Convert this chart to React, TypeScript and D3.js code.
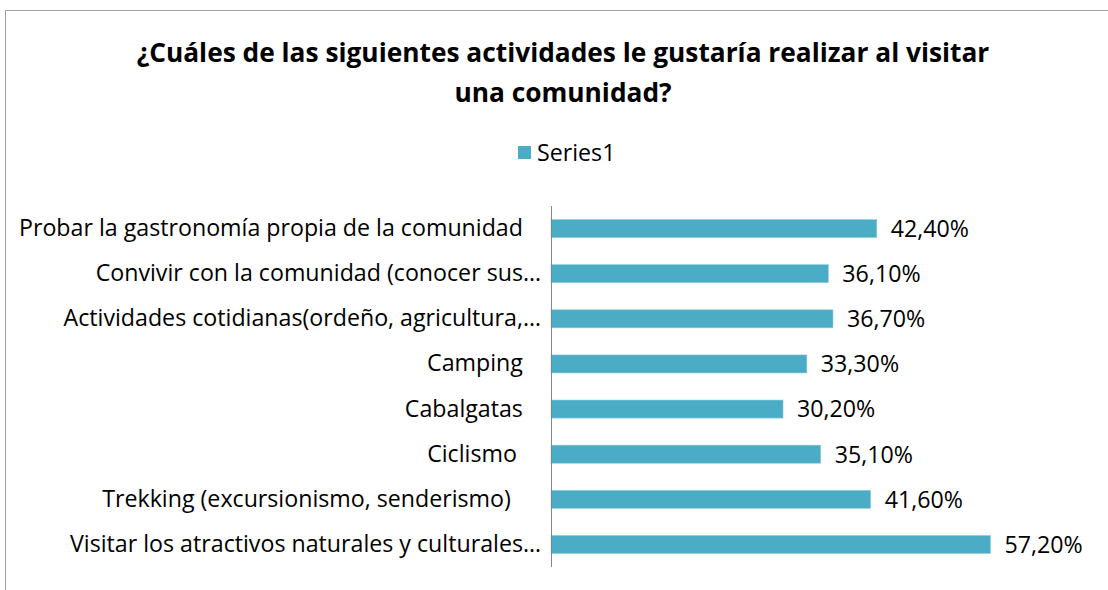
import { useEffect, useRef } from 'react';
import * as d3 from 'd3';

const TITLE_LINES = [
  '¿Cuáles de las siguientes actividades le gustaría realizar al visitar',
  'una comunidad?',
];
const SERIES_NAME = 'Series1';

// top to bottom, as shown (trailing spaces come from the source labels)
const CATEGORIES = [
  'Probar la gastronomía propia de la comunidad   ',
  'Convivir con la comunidad (conocer sus…',
  'Actividades cotidianas(ordeño, agricultura,…',
  'Camping   ',
  'Cabalgatas   ',
  'Ciclismo    ',
  'Trekking (excursionismo, senderismo)     ',
  'Visitar los atractivos naturales y culturales…',
];
const VALUES = [42.4, 36.1, 36.7, 33.3, 30.2, 35.1, 41.6, 57.2];

const WIDTH = 1108;
const HEIGHT = 590;
const BAR_COLOR = '#4BACC6';
const FONT = '"Open Sans", "Noto Sans", sans-serif';
const LABEL_SIZE = 23.2;

export default function App() {
  const svgRef = useRef<SVGSVGElement>(null);

  useEffect(() => {
    document.body.style.margin = '0';
    const svg = d3.select(svgRef.current);
    svg.selectAll('*').remove();

    svg.attr('width', WIDTH).attr('height', HEIGHT).style('font-family', FONT);

    // chart frame (runs off the right and bottom edges)
    svg.append('rect')
      .attr('x', 5.5)
      .attr('y', 10.5)
      .attr('width', 1200)
      .attr('height', 700)
      .attr('fill', '#fff')
      .attr('stroke', '#a0a0a0')
      .attr('stroke-width', 1);

    // title
    svg.append('g')
      .selectAll('text')
      .data(TITLE_LINES)
      .join('text')
      .attr('x', 563)
      .attr('y', (d, i) => 62 + i * 40)
      .attr('text-anchor', 'middle')
      .attr('font-size', 26.3)
      .attr('font-weight', 'bold')
      .attr('fill', '#000')
      .text((d) => d);

    // legend
    const legend = svg.append('g');
    legend.append('rect')
      .attr('x', 518)
      .attr('y', 146)
      .attr('width', 13)
      .attr('height', 13)
      .attr('fill', BAR_COLOR);
    legend.append('text')
      .attr('x', 537)
      .attr('y', 161)
      .attr('font-size', LABEL_SIZE)
      .attr('fill', '#000')
      .text(SERIES_NAME);

    const x = d3.scaleLinear().domain([0, 60]).range([551, 1012]);
    const y = d3.scaleBand<string>()
      .domain(CATEGORIES)
      .range([206, 567])
      .paddingInner(0.6)
      .paddingOuter(0.3);

    const rows = CATEGORIES.map((c, i) => ({ cat: c, value: VALUES[i] }));

    // bars
    svg.append('g')
      .selectAll('rect')
      .data(rows)
      .join('rect')
      .attr('x', x(0))
      .attr('y', (d) => y(d.cat)!)
      .attr('width', (d) => x(d.value) - x(0))
      .attr('height', y.bandwidth())
      .attr('fill', BAR_COLOR)
      .attr('stroke', '#8fcddd')
      .attr('stroke-width', 0.6);

    // value labels
    svg.append('g')
      .selectAll('text')
      .data(rows)
      .join('text')
      .attr('x', (d) => x(d.value) + 14)
      .attr('y', (d) => y(d.cat)! + y.bandwidth() / 2)
      .attr('dy', '0.36em')
      .attr('font-size', LABEL_SIZE)
      .attr('fill', '#000')
      .text((d) => d.value.toFixed(2).replace('.', ',') + '%');

    // category axis
    svg.append('g')
      .attr('transform', `translate(${x(0)},0)`)
      .call(d3.axisLeft(y).tickSize(0).tickPadding(10))
      .call((g) => g.select('.domain').attr('stroke', '#868686').attr('d', 'M0.5,206V567'))
      .call((g) => g.selectAll('text')
        .attr('font-size', LABEL_SIZE)
        .attr('font-family', FONT)
        .attr('fill', '#000')
        .style('white-space', 'pre'));
  }, []);

  return <svg ref={svgRef} style={{ display: 'block' }} />;
}
